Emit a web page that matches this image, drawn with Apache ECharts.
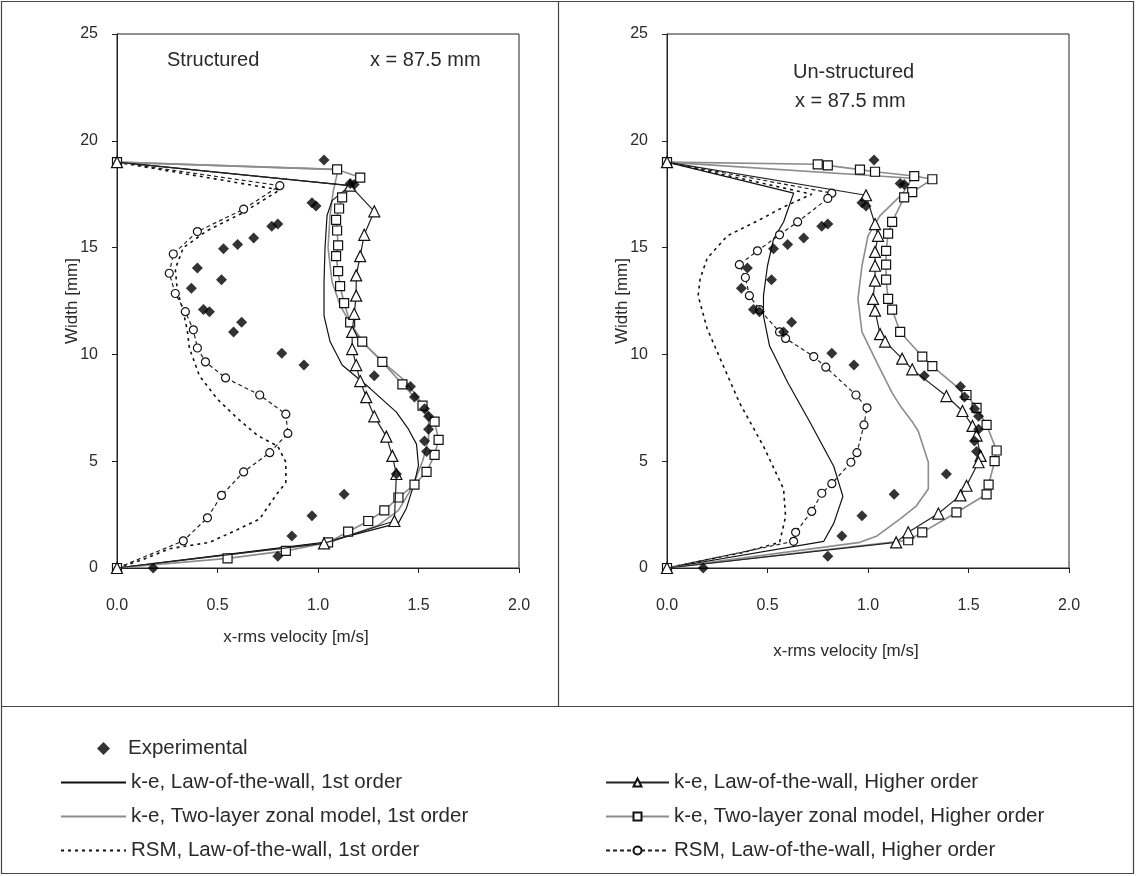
<!DOCTYPE html>
<html><head><meta charset="utf-8">
<script src="https://cdn.jsdelivr.net/npm/echarts@6/dist/echarts.min.js"></script>
<style>html,body{margin:0;padding:0;background:#fff}#c{width:1136px;height:876px}</style>
</head><body><div id="c"></div>
<script>
// ---------- data (x-rms velocity [m/s], width [mm]) ----------
const experimental = [[1.03,19.1],[1.16,18.0],[1.18,17.95],[0.97,17.1],[0.99,16.95],[0.80,16.1],[0.77,16.0],[0.68,15.45],[0.60,15.15],[0.53,14.95],[0.40,14.05],[0.52,13.5],[0.37,13.1],[0.43,12.1],[0.46,12.0],[0.62,11.5],[0.58,11.05],[0.82,10.05],[0.93,9.5],[1.28,9.0],[1.46,8.5],[1.48,8.0],[1.53,7.45],[1.55,7.1],[1.55,6.5],[1.53,5.95],[1.54,5.45],[1.39,4.4],[1.13,3.45],[0.97,2.45],[0.87,1.5],[0.80,0.55],[0.18,0.0]];

// Structured mesh
const S_keLaw1 = [[0,19],[1.16,17.9],[1.07,17.2],[1.045,16.5],[1.035,15.0],[1.03,13.4],[1.03,11.8],[1.06,10.6],[1.12,9.5],[1.26,8.4],[1.39,7.3],[1.45,6.5],[1.49,5.8],[1.50,4.8],[1.48,4.0],[1.44,2.8],[1.40,2.1],[1.03,1.2],[0,0]];
const S_keTwo1 = [[0,19],[1.10,18.65],[1.075,17.6],[1.06,16.5],[1.05,15.0],[1.07,13.4],[1.11,12.3],[1.17,11.3],[1.24,10.4],[1.34,9.5],[1.44,8.7],[1.51,7.8],[1.55,6.9],[1.55,6.0],[1.52,5.0],[1.47,3.8],[1.40,2.7],[1.30,2.0],[1.06,1.2],[0,0]];
const S_rsm1 = [[0,19],[0.81,17.7],[0.62,16.6],[0.45,15.8],[0.33,15.0],[0.29,14.0],[0.30,13.0],[0.33,12.0],[0.35,11.1],[0.36,10.3],[0.41,9.0],[0.50,7.9],[0.60,7.0],[0.70,6.2],[0.80,5.7],[0.84,4.95],[0.84,4.0],[0.79,3.4],[0.71,2.3],[0.60,1.8],[0.46,1.2],[0.26,0.9],[0.13,0.4],[0,0]];
const S_keLawH = [[0,19],[1.16,17.9],[1.28,16.7],[1.23,15.6],[1.21,14.6],[1.19,13.7],[1.19,12.75],[1.18,11.9],[1.17,11.05],[1.17,10.25],[1.19,9.5],[1.21,8.75],[1.24,8.0],[1.28,7.1],[1.34,6.15],[1.37,5.25],[1.39,4.4],[1.38,2.2],[1.03,1.15],[0,0]];
const S_keTwoH = [[0,19],[1.095,18.66],[1.21,18.28],[1.12,17.35],[1.105,16.83],[1.09,16.3],[1.095,15.8],[1.10,15.1],[1.09,14.6],[1.10,13.9],[1.11,13.2],[1.13,12.4],[1.16,11.5],[1.22,10.6],[1.32,9.65],[1.42,8.6],[1.52,7.6],[1.58,6.85],[1.60,6.0],[1.58,5.3],[1.54,4.5],[1.48,3.9],[1.40,3.3],[1.33,2.7],[1.25,2.2],[1.15,1.7],[1.05,1.2],[0.84,0.8],[0.55,0.45],[0,0]];
const S_rsmH = [[0,19],[0.81,17.9],[0.63,16.8],[0.40,15.75],[0.28,14.7],[0.26,13.8],[0.29,12.85],[0.34,12.0],[0.38,11.15],[0.40,10.3],[0.44,9.65],[0.54,8.9],[0.71,8.1],[0.84,7.2],[0.85,6.3],[0.76,5.4],[0.63,4.5],[0.52,3.4],[0.45,2.35],[0.33,1.27],[0,0]];

// Un-structured mesh
const U_keLaw1 = [[0,19],[0.63,17.55],[0.58,16.2],[0.53,15.4],[0.50,14.15],[0.48,12.75],[0.48,11.8],[0.51,10.4],[0.60,8.7],[0.71,6.85],[0.83,4.75],[0.875,3.35],[0.83,2.1],[0.78,1.25],[0,0]];
const U_keTwo1 = [[0,19],[1.22,18.25],[1.17,17.5],[1.06,16.5],[1.0,15.55],[0.97,14.15],[0.95,12.6],[0.97,11.05],[1.045,9.6],[1.12,8.2],[1.16,7.6],[1.22,6.85],[1.25,6.4],[1.30,4.95],[1.30,3.7],[1.24,2.9],[1.16,2.3],[1.045,1.5],[0.96,1.2],[0,0]];
const U_rsm1 = [[0,19],[0.72,17.5],[0.58,16.9],[0.46,16.3],[0.30,15.55],[0.20,14.5],[0.165,13.55],[0.155,12.75],[0.20,11.2],[0.26,9.9],[0.36,7.75],[0.48,5.7],[0.58,3.7],[0.59,2.4],[0.56,1.2],[0.38,0.73],[0.13,0.26],[0,0]];
const U_keLawH = [[0,19],[0.99,17.45],[1.035,16.1],[1.05,15.55],[1.035,14.8],[1.035,14.15],[1.035,13.45],[1.025,12.6],[1.035,12.05],[1.06,10.95],[1.085,10.6],[1.17,9.8],[1.22,9.3],[1.39,8.05],[1.47,7.35],[1.52,6.65],[1.54,6.2],[1.56,5.25],[1.55,4.95],[1.49,3.85],[1.46,3.4],[1.35,2.55],[1.20,1.67],[1.14,1.2],[0,0]];
const U_keTwoH = [[0,19],[0.75,18.9],[0.80,18.85],[0.96,18.65],[1.035,18.55],[1.23,18.35],[1.32,18.2],[1.22,17.6],[1.18,17.35],[1.12,16.2],[1.10,15.65],[1.09,14.85],[1.09,14.2],[1.09,13.5],[1.10,12.6],[1.12,12.1],[1.16,11.05],[1.27,9.9],[1.32,9.45],[1.49,8.1],[1.54,7.5],[1.59,6.7],[1.64,5.5],[1.63,5.0],[1.60,3.9],[1.59,3.45],[1.44,2.6],[1.27,1.67],[1.20,1.3],[0,0]];
const U_rsmH = [[0,19],[0.82,17.55],[0.80,17.3],[0.65,16.2],[0.56,15.6],[0.45,14.85],[0.36,14.2],[0.39,13.6],[0.41,12.75],[0.46,12.1],[0.56,11.05],[0.59,10.75],[0.73,9.9],[0.79,9.4],[0.94,8.1],[0.995,7.5],[0.98,6.7],[0.945,5.4],[0.915,4.95],[0.82,3.95],[0.77,3.5],[0.72,2.65],[0.64,1.67],[0.63,1.25],[0,0]];

const names = {
  exp: 'Experimental',
  keLaw1: 'k-e, Law-of-the-wall, 1st order',
  keTwo1: 'k-e, Two-layer zonal model, 1st order',
  rsm1: 'RSM, Law-of-the-wall, 1st order',
  keLawH: 'k-e, Law-of-the-wall, Higher order',
  keTwoH: 'k-e, Two-layer zonal model, Higher order',
  rsmH: 'RSM, Law-of-the-wall, Higher order'
};
const panelTitles = ['Structured', 'Un-structured'];
const posLabel = 'x = 87.5 mm';
const xName = 'x-rms velocity [m/s]';
const yName = 'Width [mm]';

// ---------- chart ----------
const FONT = 'Liberation Sans, Arial, sans-serif';
const TXT = '#2a2a2a';
const GREY = '#8c8c8c';

function axesFor(i, xGap) {
  return {
    x: {
      type: 'value', gridIndex: i, min: 0, max: 2, interval: 0.5,
      name: xName, nameLocation: 'middle', nameGap: xGap, nameMoveOverlap: false,
      nameTextStyle: { fontFamily: FONT, fontSize: 17, color: TXT, padding: [0, 44, 0, 0] },
      axisLine: { show: true, lineStyle: { color: '#222', width: 1 } },
      axisTick: { show: true, inside: false, length: 5, lineStyle: { color: '#222' } },
      axisLabel: { margin: 30, fontFamily: FONT, fontSize: 16, color: TXT, formatter: v => v.toFixed(1) },
      splitLine: { show: false }
    },
    y: {
      type: 'value', gridIndex: i, min: 0, max: 25, interval: 5,
      name: yName, nameLocation: 'middle', nameGap: 36, nameRotate: 90, nameMoveOverlap: false,
      nameTextStyle: { fontFamily: FONT, fontSize: 17, color: TXT },
      axisLine: { show: true, lineStyle: { color: '#222', width: 1 } },
      axisTick: { show: true, inside: false, length: 5, lineStyle: { color: '#222' } },
      axisLabel: { margin: 19, fontFamily: FONT, fontSize: 16, color: TXT },
      splitLine: { show: false }
    }
  };
}
const a0 = axesFor(0, 61), a1 = axesFor(1, 75);

function panelSeries(i, d) {
  const base = { xAxisIndex: i, yAxisIndex: i, animation: false };
  return [
    Object.assign({}, base, { name: names.rsm1, type: 'line', data: d.rsm1, symbol: 'none',
      lineStyle: { color: '#111', width: 1.6, type: [3, 4] }, itemStyle: { color: 'rgba(0,0,0,0)' }, z: 2 }),
    Object.assign({}, base, { name: names.keTwo1, type: 'line', data: d.keTwo1, symbol: 'none',
      lineStyle: { color: GREY, width: 1.6 }, itemStyle: { color: 'rgba(0,0,0,0)' }, z: 2 }),
    Object.assign({}, base, { name: names.keLaw1, type: 'line', data: d.keLaw1, symbol: 'none',
      lineStyle: { color: '#111', width: 1.2 }, itemStyle: { color: 'rgba(0,0,0,0)' }, z: 3 }),
    Object.assign({}, base, { name: names.rsmH, type: 'line', data: d.rsmH, symbol: 'circle', symbolSize: 8,
      lineStyle: { color: '#222', width: 1.2, type: [4, 3] }, itemStyle: { color: '#fff', borderColor: '#111', borderWidth: 1.2 }, z: 4 }),
    Object.assign({}, base, { name: names.keTwoH, type: 'line', data: d.keTwoH, symbol: 'rect', symbolSize: 9,
      lineStyle: { color: GREY, width: 1.6 }, itemStyle: { color: '#fff', borderColor: '#111', borderWidth: 1.2 }, z: 4 }),
    Object.assign({}, base, { name: names.keLawH, type: 'line', data: d.keLawH, symbol: 'triangle', symbolSize: 11,
      lineStyle: { color: '#222', width: 1.2 }, itemStyle: { color: '#fff', borderColor: '#111', borderWidth: 1.2 }, z: 5 }),
    Object.assign({}, base, { name: names.exp, type: 'scatter', data: experimental, symbol: 'diamond', symbolSize: 11,
      itemStyle: { color: '#000' }, z: 6 })
  ];
}

const series = [].concat(
  panelSeries(0, { keLaw1: S_keLaw1, keTwo1: S_keTwo1, rsm1: S_rsm1, keLawH: S_keLawH, keTwoH: S_keTwoH, rsmH: S_rsmH }),
  panelSeries(1, { keLaw1: U_keLaw1, keTwo1: U_keTwo1, rsm1: U_rsm1, keLawH: U_keLawH, keTwoH: U_keTwoH, rsmH: U_rsmH })
);

const legendText = { fontFamily: FONT, fontSize: 20.5, color: TXT };
const noMark = { opacity: 0 };
const option = {
  backgroundColor: '#fff',
  animation: false,
  grid: [
    { left: 117, top: 34, width: 402, height: 534, show: true, borderColor: '#222', borderWidth: 1 },
    { left: 667, top: 34, width: 402, height: 534, show: true, borderColor: '#222', borderWidth: 1 }
  ],
  xAxis: [a0.x, a1.x],
  yAxis: [a0.y, a1.y],
  legend: [
    { orient: 'vertical', left: 92, top: 733, itemWidth: 13, itemHeight: 13,
      data: [names.exp], textStyle: Object.assign({ padding: [0, 0, 0, 13] }, legendText), selectedMode: false },
    { orient: 'vertical', left: 55, top: 767, itemWidth: 65, itemHeight: 10, itemGap: 13,
      data: [{ name: names.keLaw1, itemStyle: noMark }, { name: names.keTwo1, itemStyle: noMark }, { name: names.rsm1, itemStyle: noMark }],
      textStyle: legendText, selectedMode: false },
    { orient: 'vertical', left: 600, top: 767, itemWidth: 63, itemHeight: 10, itemGap: 13,
      data: [names.keLawH, names.keTwoH, names.rsmH], textStyle: legendText, selectedMode: false }
  ],
  graphic: [
    { type: 'rect', shape: { x: 1.5, y: 1.5, width: 1132, height: 872 }, style: { fill: 'none', stroke: '#444', lineWidth: 1.2 }, silent: true },
    { type: 'line', shape: { x1: 558.5, y1: 1.5, x2: 558.5, y2: 706 }, style: { stroke: '#444', lineWidth: 1.2 }, silent: true },
    { type: 'line', shape: { x1: 1.5, y1: 706.5, x2: 1133.5, y2: 706.5 }, style: { stroke: '#444', lineWidth: 1.2 }, silent: true },
    { type: 'text', left: 167, top: 50, style: { text: panelTitles[0], fontFamily: FONT, fontSize: 20, fill: TXT } },
    { type: 'text', left: 370, top: 50, style: { text: posLabel, fontFamily: FONT, fontSize: 20, fill: TXT } },
    { type: 'text', left: 793, top: 62, style: { text: panelTitles[1], fontFamily: FONT, fontSize: 20, fill: TXT } },
    { type: 'text', left: 795, top: 91, style: { text: posLabel, fontFamily: FONT, fontSize: 20, fill: TXT } }
  ],
  series: series
};
const chart = echarts.init(document.getElementById('c'), null, { renderer: 'canvas' });
chart.setOption(option);
</script>
</body></html>
